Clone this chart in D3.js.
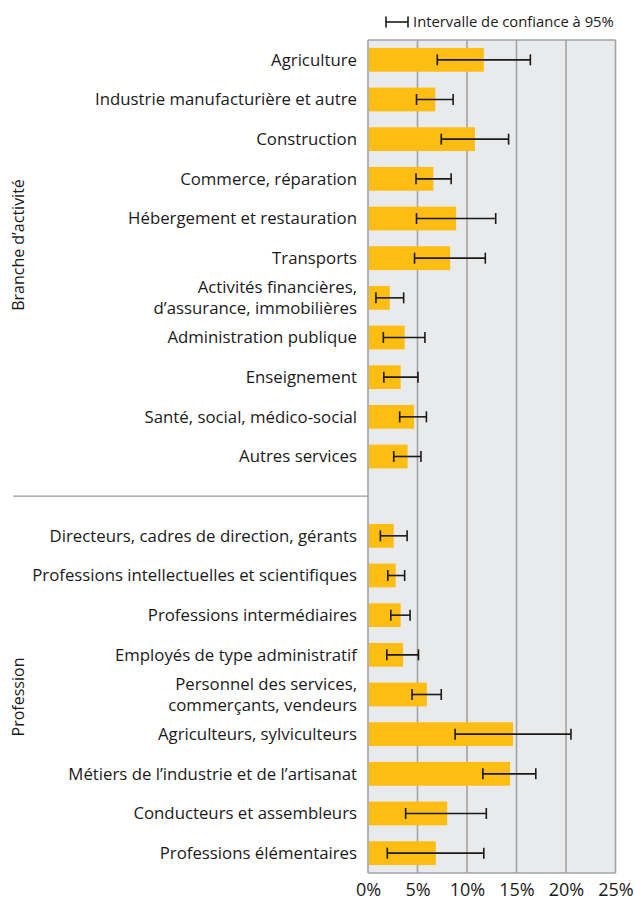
<!DOCTYPE html>
<html>
<head>
<meta charset="utf-8">
<script src="https://cdn.jsdelivr.net/npm/d3@7"></script>
<style>
  body { margin: 0; background: #fff; }
  svg text { font-family: "Open Sans", sans-serif; fill: #1a1a1a; }
</style>
</head>
<body>
<svg id="chart" width="635" height="903"></svg>
<script>
// Branche d'activité
const branches = [
  "Agriculture",
  "Industrie manufacturière et autre",
  "Construction",
  "Commerce, réparation",
  "Hébergement et restauration",
  "Transports",
  "Activités financières,|d’assurance, immobilières",
  "Administration publique",
  "Enseignement",
  "Santé, social, médico-social",
  "Autres services"
];
const branchValues = [11.7, 6.8, 10.8, 6.6, 8.9, 8.3, 2.2, 3.7, 3.3, 4.65, 4.0];
const branchLow    = [7.0, 4.9, 7.4, 4.85, 4.9, 4.7, 0.8, 1.55, 1.6, 3.2, 2.6];
const branchHigh   = [16.4, 8.6, 14.2, 8.4, 12.9, 11.85, 3.6, 5.75, 5.05, 5.9, 5.35];

// Profession
const professions = [
  "Directeurs, cadres de direction, gérants",
  "Professions intellectuelles et scientifiques",
  "Professions intermédiaires",
  "Employés de type administratif",
  "Personnel des services,|commerçants, vendeurs",
  "Agriculteurs, sylviculteurs",
  "Métiers de l’industrie et de l’artisanat",
  "Conducteurs et assembleurs",
  "Professions élémentaires"
];
const profValues = [2.6, 2.8, 3.3, 3.55, 5.95, 14.65, 14.35, 8.0, 6.85];
const profLow    = [1.25, 2.0, 2.3, 1.9, 4.45, 8.8, 11.6, 3.8, 1.95];
const profHigh   = [3.95, 3.7, 4.25, 5.1, 7.4, 20.5, 16.95, 11.95, 11.7];

const ticks = [0, 5, 10, 15, 20, 25];
const legendLabel = "Intervalle de confiance à 95%";

const svg = d3.select("#chart");
const margin = { left: 368, top: 40 };
const plotRight = 615.5;
const plotBottom = 873;
const labelSize = 16.8;

// une ligne vide entre les deux groupes
const rows = [];
branches.forEach((c, i) => rows.push({ key: "b" + i, label: c, v: branchValues[i], lo: branchLow[i], hi: branchHigh[i] }));
const gapKey = "gap";
professions.forEach((c, i) => rows.push({ key: "p" + i, label: c, v: profValues[i], lo: profLow[i], hi: profHigh[i] }));
const domain = rows.slice(0, branches.length).map(d => d.key)
  .concat([gapKey])
  .concat(rows.slice(branches.length).map(d => d.key));

const x = d3.scaleLinear().domain([0, 25]).range([margin.left, plotRight]);
const y = d3.scaleBand().domain(domain).range([margin.top, plotBottom]).paddingInner(0.4).paddingOuter(0.2);

// fond
svg.append("rect")
  .attr("x", x(0)).attr("y", margin.top)
  .attr("width", x(25) - x(0)).attr("height", plotBottom - margin.top)
  .attr("fill", "#e9eaec");

// grille
svg.append("g").selectAll("line").data(ticks).join("line")
  .attr("x1", d => x(d)).attr("x2", d => x(d))
  .attr("y1", margin.top).attr("y2", plotBottom)
  .attr("stroke", "#a3a3a3").attr("stroke-width", 1.6);

// cadre haut et bas
svg.append("line")
  .attr("x1", x(0)).attr("x2", x(25)).attr("y1", margin.top).attr("y2", margin.top)
  .attr("stroke", "#a3a3a3").attr("stroke-width", 1.6);
svg.append("line")
  .attr("x1", x(0)).attr("x2", x(25)).attr("y1", plotBottom).attr("y2", plotBottom)
  .attr("stroke", "#a3a3a3").attr("stroke-width", 1.6);

// barres
svg.append("g").selectAll("rect").data(rows).join("rect")
  .attr("x", x(0) + 1)
  .attr("y", d => y(d.key))
  .attr("width", d => x(d.v) - x(0) - 1)
  .attr("height", y.bandwidth())
  .attr("fill", "#fdbd13");

// intervalles de confiance
const eb = svg.append("g").attr("stroke", "#1a1a1a").attr("stroke-width", 1.6);
rows.forEach(d => {
  const cy = y(d.key) + y.bandwidth() / 2;
  eb.append("line").attr("x1", x(d.lo)).attr("x2", x(d.hi)).attr("y1", cy).attr("y2", cy);
  eb.append("line").attr("x1", x(d.lo)).attr("x2", x(d.lo)).attr("y1", cy - 5.5).attr("y2", cy + 5.5);
  eb.append("line").attr("x1", x(d.hi)).attr("x2", x(d.hi)).attr("y1", cy - 5.5).attr("y2", cy + 5.5);
});

// étiquettes des catégories (une ligne = un texte)
const labelG = svg.append("g");
rows.forEach(d => {
  const parts = d.label.split("|");
  const cy = y(d.key) + y.bandwidth() / 2;
  const step = 21;
  parts.forEach((p, i) => {
    labelG.append("text")
      .attr("text-anchor", "end")
      .attr("font-size", labelSize)
      .attr("x", 357)
      .attr("y", cy + (i - (parts.length - 1) / 2) * step)
      .attr("dy", "0.35em")
      .text(p);
  });
});

// séparateur entre groupes
const sepY = y(gapKey) + y.bandwidth() / 2;
svg.append("line")
  .attr("x1", 13).attr("x2", x(0)).attr("y1", sepY).attr("y2", sepY)
  .attr("stroke", "#999").attr("stroke-width", 1.3);

// titres de groupes
svg.append("text")
  .attr("transform", "translate(24,245) rotate(-90)")
  .attr("text-anchor", "middle").attr("font-size", 16)
  .text("Branche d’activité");
svg.append("text")
  .attr("transform", "translate(24,697) rotate(-90)")
  .attr("text-anchor", "middle").attr("font-size", 16)
  .text("Profession");

// axe x
const axis = d3.axisBottom(x).tickValues(ticks).tickFormat(d => d + "%").tickSize(0).tickPadding(10);
const gx = svg.append("g").attr("transform", `translate(0,${plotBottom})`).call(axis);
gx.select(".domain").remove();
gx.selectAll("text").attr("font-size", 18).attr("font-family", "Open Sans, sans-serif").attr("fill", "#1a1a1a");

// légende
const lg = svg.append("g").attr("stroke", "#1a1a1a").attr("stroke-width", 1.6);
lg.append("line").attr("x1", 386).attr("x2", 408).attr("y1", 22).attr("y2", 22);
lg.append("line").attr("x1", 386).attr("x2", 386).attr("y1", 16.5).attr("y2", 27.5);
lg.append("line").attr("x1", 408).attr("x2", 408).attr("y1", 16.5).attr("y2", 27.5);
svg.append("text").attr("x", 413).attr("y", 22).attr("dy", "0.35em")
  .attr("font-size", 14.8).text(legendLabel);
</script>
</body>
</html>
